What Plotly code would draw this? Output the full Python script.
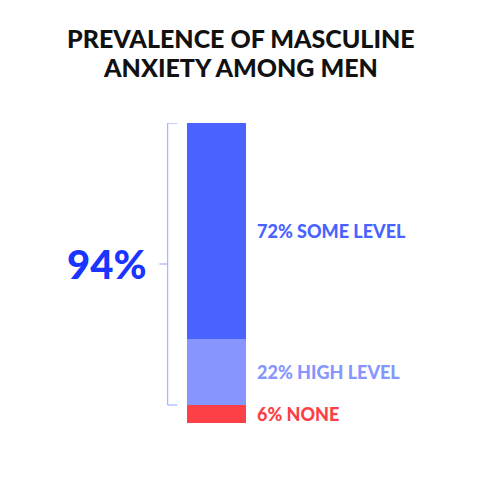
import plotly.graph_objects as go

# data
categories = ["None", "High level", "Some level"]
values = [6, 22, 72]
labels = ["6% NONE", "22% HIGH LEVEL", "72% SOME LEVEL"]
bar_colors = ["#fc4046", "#8796ff", "#4a63ff"]
label_colors = ["#fc4046", "#8796ff", "#4a63ff"]
total_label = "94%"
title_lines = ["PREVALENCE OF MASCULINE", "ANXIETY AMONG MEN"]

fig = go.Figure()

# stacked bar, bottom to top
for cat, val, col in zip(categories, values, bar_colors):
    fig.add_trace(go.Bar(x=[0], y=[val], name=cat, width=1,
                         marker=dict(color=col, line=dict(width=0)),
                         hoverinfo="skip"))

# labels at the middle of each segment
base = 0
for val, lab, col in zip(values, labels, label_colors):
    fig.add_annotation(x=0.66, y=base + val / 2, text=lab, showarrow=False,
                       xanchor="left", yanchor="middle",
                       font=dict(family="Lato", size=18, color=col, weight=900))
    base += val

# bracket around "some" + "high" (6..100)
lo = values[0]
hi = sum(values)
mid = (lo + hi) / 2
bracket = dict(color="#aab6ff", width=1.3)
fig.add_shape(type="line", x0=-0.83, x1=-0.83, y0=lo, y1=hi, line=bracket)
fig.add_shape(type="line", x0=-0.83, x1=-0.665, y0=hi, y1=hi, line=bracket)
fig.add_shape(type="line", x0=-0.83, x1=-0.665, y0=lo, y1=lo, line=bracket)
fig.add_shape(type="line", x0=-0.97, x1=-0.83, y0=mid, y1=mid, line=bracket)

fig.add_annotation(x=-1.17, y=mid, text=total_label, showarrow=False,
                   xanchor="right", yanchor="middle",
                   font=dict(family="Lato", size=40, color="#1a35ff", weight=900))

# title, two lines (paper y measured from the 300px plot area)
for i, line in enumerate(title_lines):
    fig.add_annotation(xref="paper", yref="paper", x=0.5 - 8 / 481,
                       y=1 + (85 - 29 * i) / 300, text=line, showarrow=False,
                       xanchor="center", yanchor="middle",
                       font=dict(family="Lato", size=25, color="#111111", weight=900))

fig.update_layout(
    width=481, height=481,
    barmode="stack",
    showlegend=False,
    plot_bgcolor="white", paper_bgcolor="white",
    margin=dict(l=0, r=0, t=115, b=66),
    xaxis=dict(range=[-3.549, 4.646], visible=False, fixedrange=True),
    yaxis=dict(range=[0, 100], visible=False, fixedrange=True),
)

fig.write_html("out.html")
